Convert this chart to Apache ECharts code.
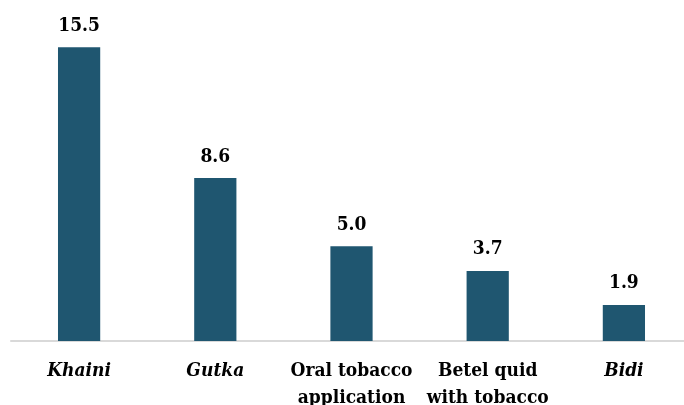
<!DOCTYPE html>
<html><head><meta charset="utf-8">
<script src="https://cdn.jsdelivr.net/npm/echarts@6/dist/echarts.min.js"></script>
<style>html,body{margin:0;padding:0;background:#fff}#c{width:684px;height:405px}</style>
</head><body><div id="c"></div>
<script>
var categories = ['Khaini', 'Gutka', 'Oral tobacco\napplication', 'Betel quid\nwith tobacco', 'Bidi'];
var italicCats = ['Khaini', 'Gutka', 'Bidi'];
var values = [15.5, 8.6, 5.0, 3.7, 1.9];
var FONT = '"DejaVu Serif Condensed", "DejaVu Serif", serif';
var chart = echarts.init(document.getElementById('c'));
chart.setOption({
  animation: false,
  grid: { left: 11, width: 681, top: 0, bottom: 64, containLabel: false, outerBoundsMode: 'none' },
  xAxis: {
    type: 'category',
    data: categories,
    axisTick: { show: false },
    axisLine: { lineStyle: { color: '#d9d9d9', width: 2 } },
    axisLabel: {
      interval: 0,
      margin: 17,
      lineHeight: 27,
      formatter: function (v) { return italicCats.indexOf(v) >= 0 ? '{i|' + v + '}' : '{n|' + v + '}'; },
      rich: {
        i: { fontFamily: FONT, fontSize: 19, fontWeight: 'bold', fontStyle: 'italic', color: '#000', lineHeight: 27 },
        n: { fontFamily: FONT, fontSize: 19, fontWeight: 'bold', color: '#000', lineHeight: 27 }
      }
    }
  },
  yAxis: { type: 'value', min: 0, max: 18, show: false, splitLine: { show: false } },
  series: [{
    type: 'bar',
    data: values,
    barWidth: '31%',
    itemStyle: { color: '#1f5670' },
    label: {
      show: true, position: 'top', distance: 12,
      formatter: function (p) { return p.value.toFixed(1); },
      fontFamily: FONT, fontSize: 19, fontWeight: 'bold', color: '#000'
    }
  }]
});
</script></body></html>
